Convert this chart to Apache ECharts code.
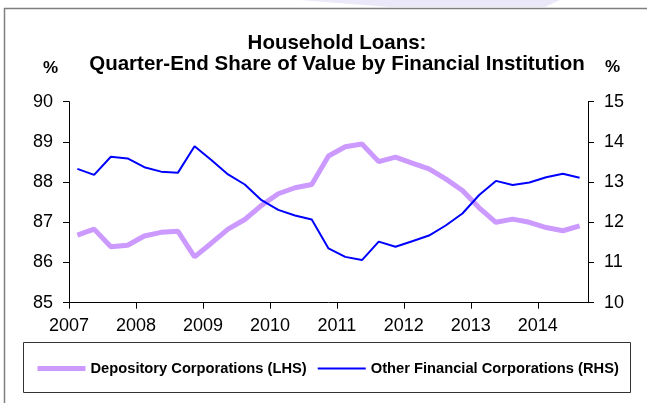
<!DOCTYPE html>
<html>
<head>
<meta charset="utf-8">
<script src="https://cdn.jsdelivr.net/npm/echarts@6/dist/echarts.min.js"></script>
<style>
  html, body { margin: 0; padding: 0; background: #ffffff; }
  #chart { width: 647px; height: 403px; }
</style>
</head>
<body>
<div id="chart"></div>
<script>
// quarter-end observations, 2007 Q1 .. 2014 Q3
const firstYear = 2007;
const years = [2007, 2008, 2009, 2010, 2011, 2012, 2013, 2014];

// share held by depository corporations (LHS, %)
const depository = [
  86.68, 86.83, 86.39, 86.43,
  86.66, 86.75, 86.78, 86.14,
  86.48, 86.83, 87.07, 87.42,
  87.71, 87.86, 87.94, 88.65,
  88.88, 88.95, 88.51, 88.62,
  88.47, 88.33, 88.08, 87.79,
  87.36, 87.00, 87.08, 87.00,
  86.87, 86.79, 86.91
];

// share held by other financial corporations (RHS, %)
const otherFinancial = [
  13.33, 13.18, 13.63, 13.59,
  13.37, 13.26, 13.23, 13.89,
  13.55, 13.19, 12.94, 12.55,
  12.31, 12.17, 12.07, 11.35,
  11.14, 11.06, 11.52, 11.39,
  11.53, 11.67, 11.92, 12.22,
  12.68, 13.03, 12.93, 12.99,
  13.12, 13.21, 13.11
];

const leftTicks = [85, 86, 87, 88, 89, 90];
const rightTicks = [10, 11, 12, 13, 14, 15];

// each quarter sits in the middle of its quarter-year slot
const toPoints = (vals) => vals.map((v, i) => [firstYear + (i + 0.5) / 4, v]);

const font = "'Liberation Sans', Arial, sans-serif";
const chart = echarts.init(document.getElementById("chart"));

chart.setOption({
  animation: false,
  textStyle: { fontFamily: font },
  title: {
    text: "Household Loans:\nQuarter-End Share of Value by Financial Institution",
    left: 332,
    top: 27.5,
    textAlign: "center",
    textStyle: {
      fontFamily: font,
      fontSize: 20.5,
      fontWeight: "bold",
      color: "#000",
      lineHeight: 21,
    },
  },
  grid: {
    left: 69,
    right: 59,
    top: 101.7,
    bottom: 100.3,
    containLabel: false,
  },
  legend: {
    left: 35,
    top: 361,
    padding: 0,
    itemWidth: 48,
    itemHeight: 14,
    itemGap: 10,
    textStyle: {
      fontFamily: font,
      fontSize: 14.7,
      fontWeight: "bold",
      color: "#000",
    },
    data: [
      {
        name: "Depository Corporations (LHS)",
        itemStyle: { opacity: 0 },
        lineStyle: { width: 5, color: "#cc99ff" },
      },
      {
        name: "Other Financial Corporations (RHS)",
        itemStyle: { opacity: 0 },
        lineStyle: { width: 2, color: "#0000ff" },
      },
    ],
  },
  graphic: [
    {
      type: "rect",
      silent: true,
      shape: { x: 4.5, y: 8.5, width: 700, height: 500 },
      style: { fill: null, stroke: "#7f7f7f", lineWidth: 1.5 },
    },
    {
      type: "rect",
      silent: true,
      shape: { x: 23.5, y: 342.5, width: 607, height: 50 },
      style: { fill: null, stroke: "#333333", lineWidth: 1 },
    },
    {
      type: "polygon",
      silent: true,
      shape: { points: [[300, 0], [560, 0], [545, 7], [390, 7]] },
      style: { fill: "#ebe8fa" },
    },
    {
      type: "text",
      left: 43,
      top: 60,
      style: { text: "%", font: "bold 17px " + font, fill: "#000" },
    },
    {
      type: "text",
      left: 605,
      top: 59,
      style: { text: "%", font: "bold 17px " + font, fill: "#000" },
    },
  ],
  xAxis: {
    type: "value",
    min: firstYear,
    max: firstYear + depository.length / 4,
    interval: 1,
    splitLine: { show: false },
    axisLine: { lineStyle: { color: "#000", width: 1 } },
    axisTick: {
      customValues: years,
      length: 6,
      lineStyle: { color: "#000" },
    },
    axisLabel: {
      customValues: years,
      formatter: (v) => String(v),
      margin: 14,
      fontSize: 18,
      color: "#000",
      fontFamily: font,
    },
  },
  yAxis: [
    {
      type: "value",
      position: "left",
      min: leftTicks[0],
      max: leftTicks[leftTicks.length - 1],
      interval: 1,
      splitLine: { show: false },
      axisLine: { show: true, lineStyle: { color: "#000", width: 1 } },
      axisTick: { show: true, length: 6, lineStyle: { color: "#000" } },
      axisLabel: { margin: 16, fontSize: 18, color: "#000", fontFamily: font },
    },
    {
      type: "value",
      position: "right",
      min: rightTicks[0],
      max: rightTicks[rightTicks.length - 1],
      interval: 1,
      splitLine: { show: false },
      axisLine: { show: true, lineStyle: { color: "#000", width: 1 } },
      axisTick: { show: true, length: 6, lineStyle: { color: "#000" } },
      axisLabel: { margin: 16, fontSize: 18, color: "#000", fontFamily: font },
    },
  ],
  series: [
    {
      name: "Depository Corporations (LHS)",
      type: "line",
      yAxisIndex: 0,
      data: toPoints(depository),
      symbol: "none",
      lineStyle: { color: "#cc99ff", width: 5 },
      itemStyle: { color: "#cc99ff" },
    },
    {
      name: "Other Financial Corporations (RHS)",
      type: "line",
      yAxisIndex: 1,
      data: toPoints(otherFinancial),
      symbol: "none",
      lineStyle: { color: "#0000ff", width: 2 },
      itemStyle: { color: "#0000ff" },
    },
  ],
});
</script>
</body>
</html>
